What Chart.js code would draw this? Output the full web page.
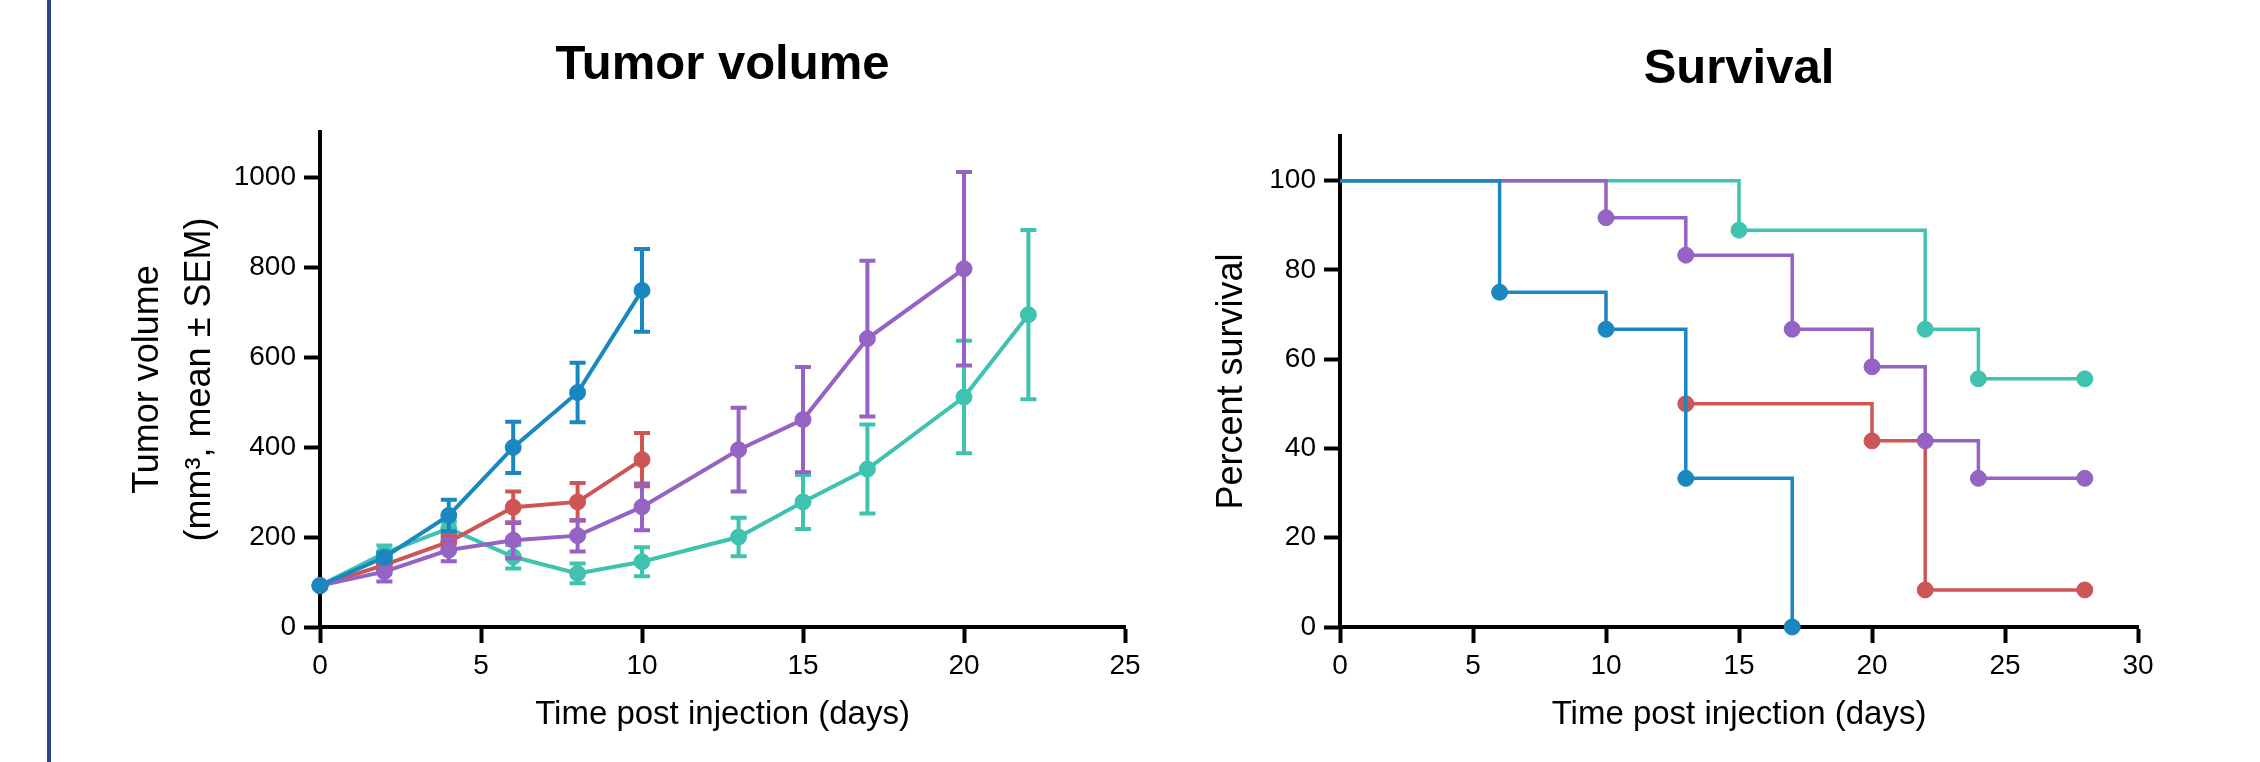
<!DOCTYPE html>
<html>
<head>
<meta charset="utf-8">
<script src="https://cdn.jsdelivr.net/npm/chart.js@4/dist/chart.umd.min.js"></script>
<style>
  html, body { margin: 0; padding: 0; background: #fff; }
  body { width: 2260px; height: 762px; position: relative; overflow: hidden; }
  #rule { position: absolute; left: 47px; top: 0; width: 4px; height: 762px; background: #2a4883; }
  #tumor { position: absolute; left: 0; top: 0; }
  #survival { position: absolute; left: 1160px; top: 0; }
</style>
</head>
<body>
<div id="rule"></div>
<canvas id="tumor" width="1160" height="762"></canvas>
<canvas id="survival" width="1100" height="762"></canvas>
<script>
// Tumor volume (mean and SEM per day)
const tvDays = [0, 2, 4, 6, 8, 10, 13, 15, 17, 20, 22];
const tvBlue = [92, 155, 248, 399, 521, 748];
const tvBlueSem = [0, 10, 35, 57, 66, 92];
const tvRed = [92, 138, 189, 266, 278, 372];
const tvRedSem = [0, 10, 15, 35, 42, 59];
const tvPurple = [92, 123, 171, 193, 203, 267, 394, 461, 641, 796];
const tvPurpleSem = [0, 22, 25, 40, 35, 52, 93, 117, 173, 215];
const tvTeal = [92, 164, 219, 156, 119, 145, 200, 278, 351, 511, 694];
const tvTealSem = [0, 17, 15, 26, 22, 32, 43, 60, 99, 125, 188];

// Survival (Kaplan-Meier steps)
const svBlueDays = [0, 6, 10, 13, 17];
const svBlue = [100, 75, 66.7, 33.3, 0];
const svPurpleDays = [0, 10, 13, 17, 20, 22, 24, 28];
const svPurple = [100, 91.7, 83.3, 66.7, 58.3, 41.7, 33.3, 33.3];
const svRedDays = [13, 20, 22, 28];
const svRed = [50, 41.7, 8.3, 8.3];
const svTealDays = [0, 15, 22, 24, 28];
const svTeal = [100, 88.9, 66.7, 55.6, 55.6];

const xTicksTumor = [0, 5, 10, 15, 20, 25];
const yTicksTumor = [0, 200, 400, 600, 800, 1000];
const xTicksSurv = [0, 5, 10, 15, 20, 25, 30];
const yTicksSurv = [0, 20, 40, 60, 80, 100];

const BLUE = '#1a87c0', RED = '#cd5555', PURPLE = '#9463c4', TEAL = '#40c2b1';
const FONT = '"Liberation Sans", Arial, sans-serif';

function pts(xs, ys) {
    return ys.map((y, i) => ({ x: xs[i], y: y }));
}

// error bars drawn just before each dataset so layering follows dataset order
const errorBars = {
    id: 'errorBars',
    beforeDatasetDraw(chart, args) {
        const ds = chart.data.datasets[args.index];
        if (!ds.sem) return;
        const xs = chart.scales.x, ys = chart.scales.y;
        const ctx = chart.ctx;
        ctx.save();
        ctx.strokeStyle = ds.borderColor;
        ctx.lineWidth = 4;
        ds.data.forEach((p, i) => {
            const e = ds.sem[i];
            if (!e) return;
            const x = xs.getPixelForValue(p.x);
            const top = ys.getPixelForValue(p.y + e);
            const bot = ys.getPixelForValue(p.y - e);
            ctx.beginPath();
            ctx.moveTo(x, top); ctx.lineTo(x, bot);
            ctx.moveTo(x - 8, top); ctx.lineTo(x + 8, top);
            ctx.moveTo(x - 8, bot); ctx.lineTo(x + 8, bot);
            ctx.stroke();
        });
        ctx.restore();
    }
};

const plotTitle = {
    id: 'plotTitle',
    afterDraw(chart, args, opts) {
        const ctx = chart.ctx;
        const a = chart.chartArea;
        ctx.save();
        ctx.font = 'bold 49px ' + FONT;
        ctx.fillStyle = '#000';
        ctx.textAlign = 'center';
        ctx.textBaseline = 'alphabetic';
        ctx.fillText(opts.text, (a.left + a.right) / 2, opts.baseline);
        ctx.restore();
    }
};

function axis(min, max, ticks, title, fitSize, horizontal) {
    return {
        type: 'linear',
        min: min,
        max: max,
        afterBuildTicks: s => { s.ticks = ticks.map(v => ({ value: v })); },
        afterFit: s => { if (horizontal) s.height = fitSize; else s.width = fitSize; },
        grid: { drawOnChartArea: false, drawTicks: true, tickLength: 16, tickWidth: 4, tickColor: '#000' },
        border: { display: true, width: 4, color: '#000' },
        ticks: {
            color: '#000', padding: horizontal ? 6 : 8, font: { family: FONT, size: 28 },
            includeBounds: false, callback: v => String(v)
        },
        title: title
    };
}

function lineSet(data, color, opts) {
    return Object.assign({
        data: data,
        borderColor: color,
        backgroundColor: color,
        pointBackgroundColor: color,
        pointBorderColor: color,
        pointBorderWidth: 1,
        pointRadius: 8,
        borderWidth: 4,
        tension: 0,
        clip: false
    }, opts || {});
}

new Chart(document.getElementById('tumor'), {
    type: 'line',
    data: {
        datasets: [
            lineSet(pts(tvDays, tvBlue), BLUE, { sem: tvBlueSem }),
            lineSet(pts(tvDays, tvPurple), PURPLE, { sem: tvPurpleSem }),
            lineSet(pts(tvDays, tvRed), RED, { sem: tvRedSem }),
            lineSet(pts(tvDays, tvTeal), TEAL, { sem: tvTealSem })
        ]
    },
    options: {
        responsive: false,
        animation: false,
        layout: { padding: { top: 132, right: 35, left: 0, bottom: 0 } },
        plugins: {
            legend: { display: false },
            tooltip: { enabled: false },
            plotTitle: { text: 'Tumor volume', baseline: 79 }
        },
        scales: {
            x: axis(0, 25, xTicksTumor, {
                display: true, text: 'Time post injection (days)', color: '#000',
                font: { family: FONT, size: 33 }, padding: { top: 0, bottom: 27 }
            }, 135, true),
            y: axis(0, 1100, yTicksTumor, {
                display: true, text: ['Tumor volume', '(mm\u00b3, mean \u00b1 SEM)'], color: '#000',
                font: { family: FONT, size: 36, lineHeight: 1.45 }, padding: { top: 122, bottom: 0 }
            }, 320, false)
        }
    },
    plugins: [errorBars, plotTitle]
});

new Chart(document.getElementById('survival'), {
    type: 'line',
    data: {
        datasets: [
            lineSet(pts(svBlueDays, svBlue), BLUE, { stepped: true, borderWidth: 3.5, pointRadius: svBlue.map((v, i) => i === 0 ? 0 : 8) }),
            lineSet(pts(svPurpleDays, svPurple), PURPLE, { stepped: true, borderWidth: 3.5, pointRadius: svPurple.map((v, i) => i === 0 ? 0 : 8) }),
            lineSet(pts(svRedDays, svRed), RED, { stepped: true, borderWidth: 3.5 }),
            lineSet(pts(svTealDays, svTeal), TEAL, { stepped: true, borderWidth: 3.5, pointRadius: svTeal.map((v, i) => i === 0 ? 0 : 8) })
        ]
    },
    options: {
        responsive: false,
        animation: false,
        layout: { padding: { top: 136, right: 122, left: 0, bottom: 0 } },
        plugins: {
            legend: { display: false },
            tooltip: { enabled: false },
            plotTitle: { text: 'Survival', baseline: 83 }
        },
        scales: {
            x: axis(0, 30, xTicksSurv, {
                display: true, text: 'Time post injection (days)', color: '#000',
                font: { family: FONT, size: 33 }, padding: { top: 0, bottom: 27 }
            }, 135, true),
            y: axis(0, 110, yTicksSurv, {
                display: true, text: 'Percent survival', color: '#000',
                font: { family: FONT, size: 36 }, padding: { top: 50, bottom: 0 }
            }, 180, false)
        }
    },
    plugins: [plotTitle]
});
</script>
</body>
</html>
